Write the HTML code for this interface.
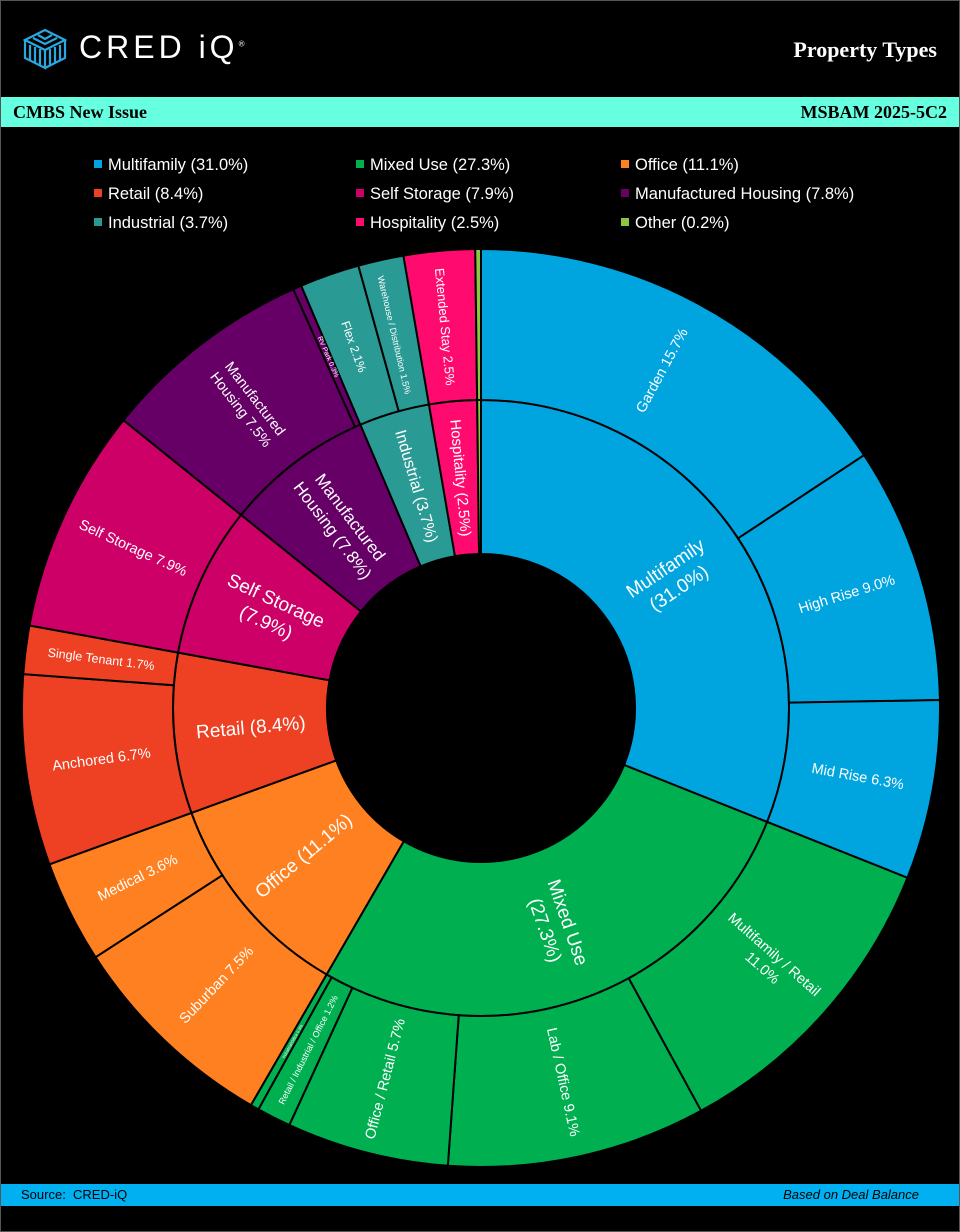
<!DOCTYPE html>
<html><head><meta charset="utf-8"><style>
html,body{margin:0;padding:0;background:#000;}
#wrap{position:relative;width:958px;height:1230px;border:1px solid #555;background:#000;overflow:hidden;font-family:"Liberation Sans",sans-serif;}
.bar{position:absolute;left:0;width:958px;}
.leg{position:absolute;color:#fff;font-size:16.5px;}
.leg span{display:inline-block;width:8px;height:8px;margin-right:6px;vertical-align:2px;}
</style></head><body><div id="wrap">
<svg style="position:absolute;left:22px;top:27px" width="44" height="42" viewBox="0 0 44 42">
<g fill="none" stroke="#29a8e0" stroke-width="2.2">
<path d="M22 2 L42 12 L22 22 L2 12 Z"/><path d="M2 12 L2 30 L22 40 L22 22"/><path d="M42 12 L42 30 L22 40"/>
<path d="M7 17 L7 32 M12 19 L12 35 M17 21 L17 37 M27 21 L27 37 M32 19 L32 35 M37 17 L37 32"/>
<path d="M10 10 L22 16 L34 10 M15 7 L22 11 L29 7"/></g></svg>
<div style="position:absolute;left:78px;top:28px;color:#fff;font-size:32px;letter-spacing:4px;font-weight:normal">CRED iQ<sup style="font-size:8px;letter-spacing:0">®</sup></div>
<div style="position:absolute;right:22px;top:36px;color:#fff;font-family:'Liberation Serif',serif;font-weight:bold;font-size:22px">Property Types</div>
<div class="bar" style="top:96px;height:30px;background:#66ffe0;font-family:'Liberation Serif',serif;font-weight:bold;font-size:18px;line-height:31px;color:#000">
<span style="position:absolute;left:12px">CMBS New Issue</span><span style="position:absolute;right:12px">MSBAM 2025-5C2</span></div>
<div class="leg" style="left:93px;top:155px"><span style="background:#00a5e0"></span>Multifamily (31.0%)</div>
<div class="leg" style="left:355px;top:155px"><span style="background:#00b050"></span>Mixed Use (27.3%)</div>
<div class="leg" style="left:620px;top:155px"><span style="background:#ff8020"></span>Office (11.1%)</div>
<div class="leg" style="left:93px;top:184px"><span style="background:#ee4123"></span>Retail (8.4%)</div>
<div class="leg" style="left:355px;top:184px"><span style="background:#cc0066"></span>Self Storage (7.9%)</div>
<div class="leg" style="left:620px;top:184px"><span style="background:#660066"></span>Manufactured Housing (7.8%)</div>
<div class="leg" style="left:93px;top:213px"><span style="background:#2a9a95"></span>Industrial (3.7%)</div>
<div class="leg" style="left:355px;top:213px"><span style="background:#ff0a6e"></span>Hospitality (2.5%)</div>
<div class="leg" style="left:620px;top:213px"><span style="background:#8dc63f"></span>Other (0.2%)</div>
<svg id="ch" style="position:absolute;left:0;top:0" width="958" height="1230" font-family="Liberation Sans, sans-serif" fill="#fff" text-anchor="middle" dominant-baseline="central">
<g id="arcs"></g>
<g font-size="19">
<text transform="translate(480 707) rotate(55.9) translate(0 -231) rotate(-90)"><tspan x="0" dy="-12">Multifamily</tspan><tspan x="0" dy="24">(31.0%)</tspan></text>
<text transform="translate(480 707) rotate(161) translate(0 -231) rotate(-90)"><tspan x="0" dy="-12">Mixed Use</tspan><tspan x="0" dy="24">(27.3%)</tspan></text>
<text transform="translate(480 707) rotate(230) translate(0 -231) rotate(90)">Office (11.1%)</text>
<text transform="translate(480 707) rotate(265) translate(0 -231) rotate(90)">Retail (8.4%)</text>
<text transform="translate(480 707) rotate(294.6) translate(0 -231) rotate(90)"><tspan x="0" dy="-12">Self Storage</tspan><tspan x="0" dy="24">(7.9%)</tspan></text>
<text font-size="17" transform="translate(480 707) rotate(322.9) translate(0 -231) rotate(90)"><tspan x="0" dy="-11">Manufactured</tspan><tspan x="0" dy="22">Housing (7.8%)</tspan></text>
<text font-size="16" transform="translate(480 707) rotate(343.6) translate(0 -231) rotate(90)">Industrial (3.7%)</text>
<text font-size="15" transform="translate(480 707) rotate(354.8) translate(0 -231) rotate(90)">Hospitality (2.5%)</text>
</g>
<g font-size="14.5">
<text transform="translate(480 707) rotate(28.3) translate(0 -383) rotate(-90)">Garden 15.7%</text>
<text transform="translate(480 707) rotate(72.8) translate(0 -383) rotate(-90)">High Rise 9.0%</text>
<text transform="translate(480 707) rotate(100.4) translate(0 -383) rotate(-90)">Mid Rise 6.3%</text>
<text transform="translate(480 707) rotate(131.5) translate(0 -383) rotate(-90)"><tspan x="0" dy="-9">Multifamily / Retail</tspan><tspan x="0" dy="18">11.0%</tspan></text>
<text transform="translate(480 707) rotate(167.7) translate(0 -383) rotate(-90)">Lab / Office 9.1%</text>
<text transform="translate(480 707) rotate(194.4) translate(0 -383) rotate(90)">Office / Retail 5.7%</text>
<text font-size="9" transform="translate(480 707) rotate(206.8) translate(0 -383) rotate(90)">Retail / Industrial / Office 1.2%</text>
<text font-size="4" transform="translate(480 707) rotate(209.5) translate(0 -383) rotate(90)">Industrial/Office 0.3%</text>
<text transform="translate(480 707) rotate(223.6) translate(0 -383) rotate(90)">Suburban 7.5%</text>
<text transform="translate(480 707) rotate(243.6) translate(0 -383) rotate(90)">Medical 3.6%</text>
<text transform="translate(480 707) rotate(262.2) translate(0 -383) rotate(90)">Anchored 6.7%</text>
<text font-size="12.5" transform="translate(480 707) rotate(277.3) translate(0 -383) rotate(90)">Single Tenant 1.7%</text>
<text transform="translate(480 707) rotate(294.6) translate(0 -383) rotate(90)">Self Storage 7.9%</text>
<text transform="translate(480 707) rotate(322.4) translate(0 -383) rotate(90)"><tspan x="0" dy="-9">Manufactured</tspan><tspan x="0" dy="18">Housing 7.5%</tspan></text>
<text font-size="7" transform="translate(480 707) rotate(336.4) translate(0 -383) rotate(90)">RV Park 0.3%</text>
<text font-size="12" transform="translate(480 707) rotate(340.6) translate(0 -383) rotate(90)">Flex 2.1%</text>
<text font-size="9" transform="translate(480 707) rotate(346.9) translate(0 -383) rotate(90)">Warehouse / Distribution 1.5%</text>
<text font-size="13" transform="translate(480 707) rotate(354.6) translate(0 -383) rotate(90)">Extended Stay 2.5%</text>
</g>
</svg>
<div class="bar" style="top:1183px;height:22px;background:#00b0f0;font-size:13px;line-height:22px;color:#000">
<span style="position:absolute;left:20px">Source:&nbsp; CRED-iQ</span><span style="position:absolute;right:40px;font-style:italic">Based on Deal Balance</span></div>
</div>
<script>
var cx=480,cy=707,T=99.9;
var inner=[["#00a5e0",31],["#00b050",27.3],["#ff8020",11.1],["#ee4123",8.4],["#cc0066",7.9],["#660066",7.8],["#2a9a95",3.7],["#ff0a6e",2.5],["#8dc63f",0.2]];
var outer=[["#00a5e0",15.7],["#00a5e0",9],["#00a5e0",6.3],["#00b050",11],["#00b050",9.1],["#00b050",5.7],["#00b050",1.2],["#00b050",0.3],["#ff8020",7.5],["#ff8020",3.6],["#ee4123",6.7],["#ee4123",1.7],["#cc0066",7.9],["#660066",7.5],["#660066",0.3],["#2a9a95",2.1],["#2a9a95",1.6],["#ff0a6e",2.5],["#8dc63f",0.2]];
function pt(r,a){a=a/T*2*Math.PI;return [cx+r*Math.sin(a),cy-r*Math.cos(a)];}
function seg(r0,r1,a0,a1,c){var p1=pt(r1,a0),p2=pt(r1,a1),p3=pt(r0,a1),p4=pt(r0,a0),l=(a1-a0)>T/2?1:0;
return '<path d="M'+p1+' A'+r1+' '+r1+' 0 '+l+' 1 '+p2+' L'+p3+' A'+r0+' '+r0+' 0 '+l+' 0 '+p4+'Z" fill="'+c+'" stroke="#000" stroke-width="2"/>';}
var h='',s=0;inner.forEach(function(d){h+=seg(154,308,s,s+d[1],d[0]);s+=d[1];});
s=0;outer.forEach(function(d){h+=seg(308,459,s,s+d[1],d[0]);s+=d[1];});
document.getElementById('arcs').innerHTML=h;
</script>
</body></html>
